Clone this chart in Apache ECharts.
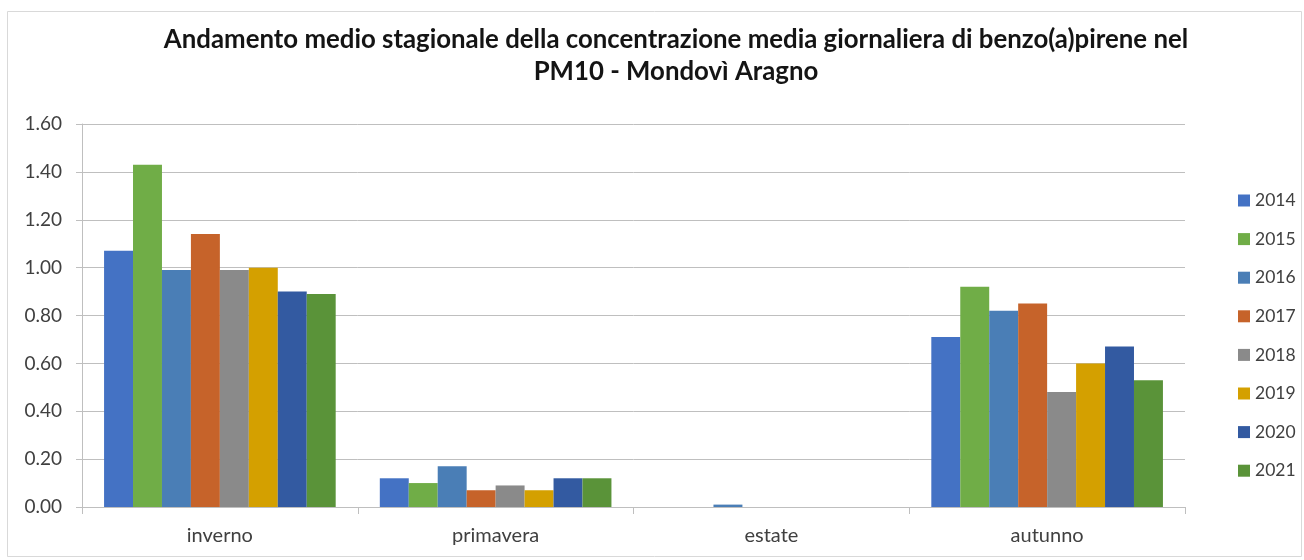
<!DOCTYPE html>
<html>
<head>
<meta charset="utf-8">
<script src="https://cdn.jsdelivr.net/npm/echarts@6/dist/echarts.min.js"></script>
<style>
  html, body { margin: 0; padding: 0; background: #ffffff; }
  #chart { width: 1304px; height: 560px; }
</style>
</head>
<body>
<div id="chart"></div>
<script>
// Seasons on the category axis
const seasons = ['inverno', 'primavera', 'estate', 'autunno'];

// Years shown in the legend
const years = ['2014', '2015', '2016', '2017', '2018', '2019', '2020', '2021'];

// Mean daily benzo(a)pyrene concentration per season (ng/m³), one array per year
const v2014 = [1.07, 0.12, 0.00, 0.71];
const v2015 = [1.43, 0.10, 0.00, 0.92];
const v2016 = [0.99, 0.17, 0.01, 0.82];
const v2017 = [1.14, 0.07, 0.00, 0.85];
const v2018 = [0.99, 0.09, 0.00, 0.48];
const v2019 = [1.00, 0.07, 0.00, 0.60];
const v2020 = [0.90, 0.12, 0.00, 0.67];
const v2021 = [0.89, 0.12, 0.00, 0.53];

// Value axis ticks
const yTicks = [0.00, 0.20, 0.40, 0.60, 0.80, 1.00, 1.20, 1.40, 1.60];

const yearValues = [v2014, v2015, v2016, v2017, v2018, v2019, v2020, v2021];
const colors = ['#4472C4', '#70AD47', '#4A7EB6', '#C6632A', '#8A8A8A', '#D4A000', '#335AA1', '#5A9339'];

const FONT = 'Lato, "Open Sans", sans-serif';

const chart = echarts.init(document.getElementById('chart'), null, { renderer: 'canvas' });

chart.setOption({
  animation: false,
  backgroundColor: '#ffffff',
  title: {
    text: 'Andamento medio stagionale della concentrazione media giornaliera di benzo(a)pirene nel\nPM10 - Mondovì Aragno',
    left: 671,
    top: 19,
    textAlign: 'center',
    textStyle: {
      fontFamily: FONT,
      fontWeight: 'bold',
      fontSize: 25.8,
      lineHeight: 32,
      color: '#141414'
    }
  },
  graphic: [
    {
      type: 'rect',
      shape: { x: 7.5, y: 11.5, width: 1294, height: 545 },
      style: { fill: 'none', stroke: '#d9d9d9', lineWidth: 1 },
      silent: true
    }
  ],
  legend: {
    orient: 'vertical',
    left: 1233,
    top: 186.5,
    itemWidth: 12,
    itemHeight: 12,
    itemGap: 20.6,
    icon: 'rect',
    data: years,
    textStyle: {
      fontFamily: FONT,
      fontSize: 17.5,
      lineHeight: 18,
      color: '#404040'
    }
  },
  grid: {
    left: 82,
    right: 119,
    top: 124,
    bottom: 53,
    containLabel: false
  },
  xAxis: {
    type: 'category',
    data: seasons,
    boundaryGap: true,
    axisLine: { show: true, lineStyle: { color: '#bfbfbf', width: 1 } },
    axisTick: { show: true, alignWithLabel: false, length: 7, lineStyle: { color: '#bfbfbf' } },
    axisLabel: {
      fontFamily: FONT,
      fontSize: 20,
      color: '#404040',
      margin: 19
    },
    splitLine: { show: false }
  },
  yAxis: {
    type: 'value',
    min: 0,
    max: 1.6,
    interval: 0.2,
    axisLine: { show: true, lineStyle: { color: '#bfbfbf', width: 1 } },
    axisTick: { show: true, length: 6, lineStyle: { color: '#bfbfbf' } },
    axisLabel: {
      fontFamily: FONT,
      fontSize: 19,
      color: '#404040',
      margin: 20,
      formatter: function (v) {
        const t = yTicks.find(function (k) { return Math.abs(k - v) < 1e-9; });
        return (t !== undefined ? t : v).toFixed(2);
      }
    },
    splitLine: { show: true, lineStyle: { color: '#bfbfbf', width: 1 } }
  },
  series: years.map(function (y, i) {
    return {
      name: y,
      type: 'bar',
      data: yearValues[i],
      barGap: '0%',
      barCategoryGap: '16%',
      itemStyle: { color: colors[i] },
      emphasis: { disabled: true }
    };
  })
});
</script>
</body>
</html>
